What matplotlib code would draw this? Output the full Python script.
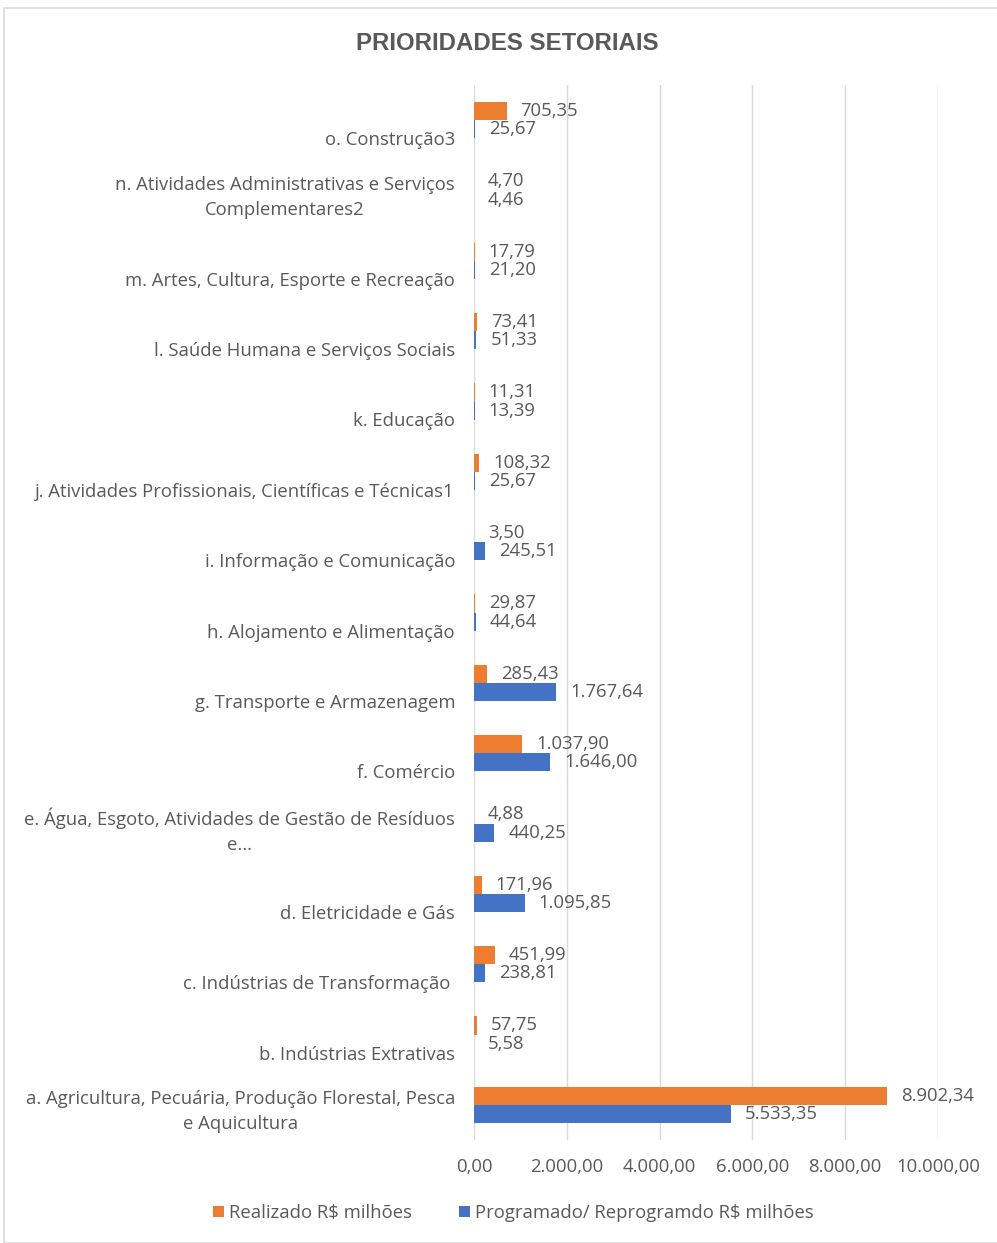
import matplotlib.pyplot as plt
import matplotlib.transforms as mtransforms
from matplotlib.patches import Rectangle

# categories from bottom (a) to top (o)
categorias = [
    'a. Agricultura, Pecuária, Produção Florestal, Pesca\ne Aquicultura',
    'b. Indústrias Extrativas',
    'c. Indústrias de Transformação ',
    'd. Eletricidade e Gás',
    'e. Água, Esgoto, Atividades de Gestão de Resíduos\ne...',
    'f. Comércio',
    'g. Transporte e Armazenagem',
    'h. Alojamento e Alimentação',
    'i. Informação e Comunicação',
    'j. Atividades Profissionais, Científicas e Técnicas1',
    'k. Educação',
    'l. Saúde Humana e Serviços Sociais',
    'm. Artes, Cultura, Esporte e Recreação',
    'n. Atividades Administrativas e Serviços\nComplementares2',
    'o. Construção3',
]
realizado = [8902.34, 57.75, 451.99, 171.96, 4.88, 1037.90, 285.43, 29.87,
             3.50, 108.32, 11.31, 73.41, 17.79, 4.70, 705.35]
programado = [5533.35, 5.58, 238.81, 1095.85, 440.25, 1646.00, 1767.64, 44.64,
              245.51, 25.67, 13.39, 51.33, 21.20, 4.46, 25.67]
xticks = [0, 2000, 4000, 6000, 8000, 10000]

cor_real = '#ED7D31'
cor_prog = '#4472C4'
cinza = '#595959'
fonte = 'Open Sans'
tam = 13.3


def br(v):
    s = f'{v:,.2f}'
    return s.replace(',', '#').replace('.', ',').replace('#', '.')


fig = plt.figure(figsize=(9.97, 12.43), dpi=100)
ax = fig.add_axes([474 / 997, 1 - 1140 / 1243, 464 / 997, 1055 / 1243])

# light border round the chart area
fig.patches.append(Rectangle((4 / 997, 0), 1, 1 - 8 / 1243, transform=fig.transFigure,
                             fill=False, edgecolor='#d9d9d9', linewidth=1.2))

y = list(range(len(categorias)))
h = 0.26
ax.barh([i + h / 2 for i in y], realizado, height=h, color=cor_real, label='Realizado R$ milhões')
ax.barh([i - h / 2 for i in y], programado, height=h, color=cor_prog,
        label='Programado/ Reprogramdo R$ milhões')

# value labels
for i in y:
    ax.annotate(br(realizado[i]), (realizado[i], i + h / 2), xytext=(10, 0),
                textcoords='offset points', va='center', ha='left',
                fontsize=tam, color=cinza, family=fonte)
    ax.annotate(br(programado[i]), (programado[i], i - h / 2), xytext=(10, 0),
                textcoords='offset points', va='center', ha='left',
                fontsize=tam, color=cinza, family=fonte)

ax.set_xlim(0, 10000)
ax.set_ylim(-0.5, len(categorias) - 0.5)
ax.set_xticks(xticks)
ax.set_xticklabels([br(v) for v in xticks], fontsize=tam, color=cinza, family=fonte)
ax.tick_params(axis='x', length=0, pad=13)
ax.set_yticks([])
ax.grid(axis='x', color='#d9d9d9', linewidth=1)
ax.set_axisbelow(True)
for s in ax.spines.values():
    s.set_visible(False)

# category labels (Excel puts them a little below the bar group)
for i, lab in enumerate(categorias):
    desloc = -7 if '\n' in lab else -20
    tr = ax.get_yaxis_transform() + mtransforms.ScaledTranslation(-19 / 100, desloc / 100, fig.dpi_scale_trans)
    ax.text(0, i, lab, transform=tr, ha='right', va='center', multialignment='center',
            fontsize=tam, color=cinza, family=fonte, linespacing=1.5)

fig.text(507 / 997, 1 - 43 / 1243, 'PRIORIDADES SETORIAIS', ha='center', va='center',
         fontsize=17.3, fontweight='bold', color=cinza, family='Liberation Sans')

leg = fig.legend(loc='center', bbox_to_anchor=(0.515, 1 - 1213 / 1243), ncol=2, frameon=False,
                 prop={'family': fonte, 'size': tam}, handlelength=0.6, handleheight=0.6,
                 handletextpad=0.3, columnspacing=2.5)
for t in leg.get_texts():
    t.set_color(cinza)

fig.savefig('out.png', dpi=100)
